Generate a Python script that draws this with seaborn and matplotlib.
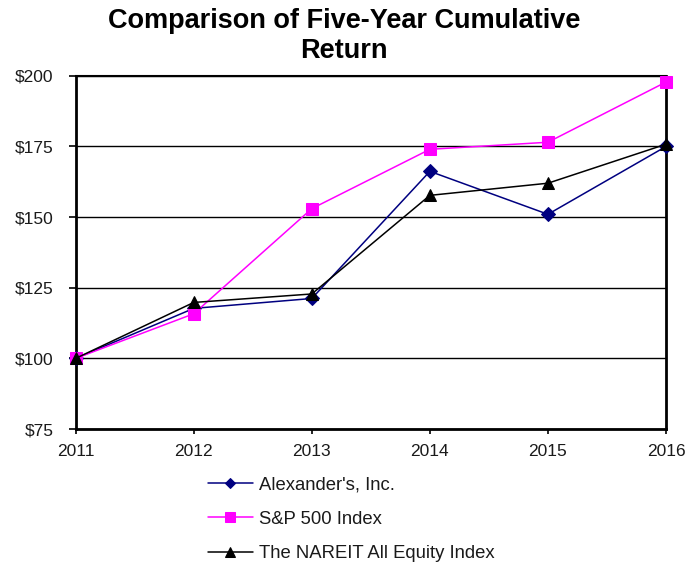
import pandas as pd
import numpy as np
import matplotlib
matplotlib.use('Agg')
import matplotlib.pyplot as plt
import seaborn as sns

# data
years = [2011, 2012, 2013, 2014, 2015, 2016]
alexanders = [100, 117.7, 121.2, 166.2, 151.0, 175.0]
sp500 = [100, 115.8, 153.0, 174.0, 176.5, 197.8]
nareit = [100, 119.8, 122.8, 157.7, 162.0, 175.8]
series_names = ["Alexander's, Inc.", "S&P 500 Index", "The NAREIT All Equity Index"]
y_ticks = [75, 100, 125, 150, 175, 200]
y_tick_labels = ['$75', '$100', '$125', '$150', '$175', '$200']

df = pd.DataFrame({
    'year': years * 3,
    'value': alexanders + sp500 + nareit,
    'series': [series_names[0]] * 6 + [series_names[1]] * 6 + [series_names[2]] * 6,
})

sns.set_style('white')
plt.rcParams['font.family'] = ['Liberation Sans', 'DejaVu Sans']
plt.rcParams['text.color'] = '#1a1a1a'

fig = plt.figure(figsize=(6.88, 5.66), dpi=100)
ax = fig.add_axes([0.110, 0.242, 0.858, 0.624])

palette = {series_names[0]: '#000080', series_names[1]: '#FF00FF', series_names[2]: '#000000'}
markers = {series_names[0]: 'D', series_names[1]: 's', series_names[2]: '^'}
sizes = {series_names[0]: 7, series_names[1]: 9, series_names[2]: 9}

for name in series_names:
    sub = df[df['series'] == name]
    sns.lineplot(data=sub, x='year', y='value', color=palette[name], marker=markers[name],
                 markersize=sizes[name], markeredgecolor=palette[name], linewidth=1.1,
                 label=name, ax=ax, zorder=3, clip_on=False)

ax.set_xlim(2011, 2016)
ax.set_ylim(75, 200)
ax.set_xticks(years)
ax.set_xticklabels([str(y) for y in years], fontsize=12.5)
ax.set_yticks(y_ticks)
ax.set_yticklabels(y_tick_labels, fontsize=12.5)
ax.set_xlabel('')
ax.set_ylabel('')

# horizontal gridlines only
ax.yaxis.grid(True, color='black', linewidth=1.0)
ax.xaxis.grid(False)
ax.set_axisbelow(True)

for side in ['left', 'right', 'top', 'bottom']:
    ax.spines[side].set_visible(True)
    ax.spines[side].set_color('black')
ax.spines['left'].set_linewidth(2.0)
ax.spines['right'].set_linewidth(2.0)
ax.spines['top'].set_linewidth(1.5)
ax.spines['bottom'].set_linewidth(2.0)
ax.tick_params(axis='y', which='both', direction='out', length=5, width=1.2, pad=11,
               color='black', labelcolor='#1a1a1a', left=True)
ax.tick_params(axis='x', which='both', direction='out', length=3.5, width=1.2, pad=7,
               color='black', labelcolor='#1a1a1a', bottom=True)

fig.text(0.5, 0.986, 'Comparison of Five-Year Cumulative\nReturn', fontsize=19.5,
         fontweight='bold', ha='center', va='top', linespacing=1.2, color='black')

ax.legend(loc='upper left', bbox_to_anchor=(0.292, 0.172), bbox_transform=fig.transFigure,
          frameon=False, fontsize=13.3, handlelength=2.4, labelspacing=0.95,
          handletextpad=0.33, borderaxespad=0, markerscale=0.75)

plt.savefig('out.png', dpi=100)
